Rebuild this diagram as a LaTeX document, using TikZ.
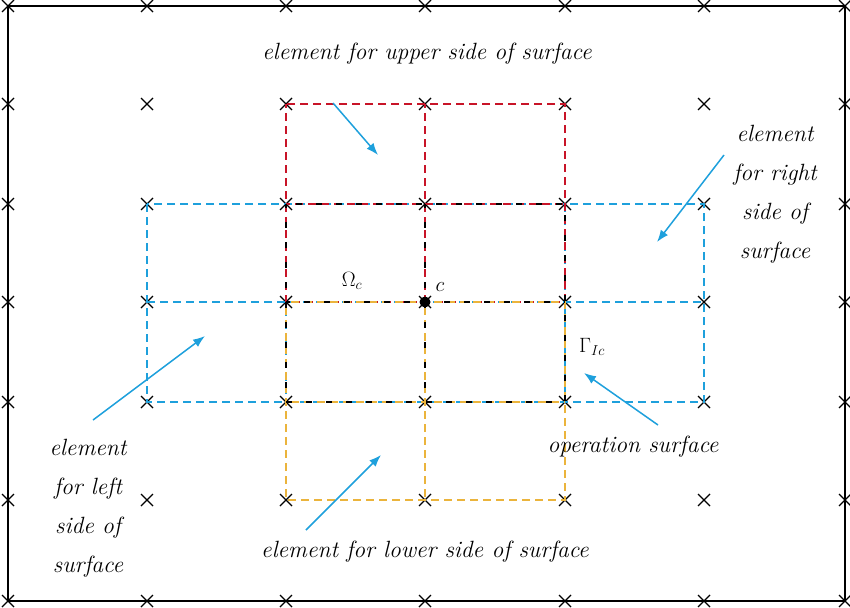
\documentclass[tikz,border=0pt]{standalone}
\usetikzlibrary{arrows.meta}
\definecolor{myred}{RGB}{200,20,40}
\definecolor{myblue}{RGB}{30,160,220}
\definecolor{myyel}{RGB}{235,180,60}
\begin{document}
\begin{tikzpicture}[x=1pt,y=-1pt,
  lbl/.style={font=\fontsize{23.5}{39}\selectfont\itshape,align=center,inner sep=0pt},
  arr/.style={myblue,line width=1.5pt,-{Latex[length=12pt,width=9pt]}},
  gd/.style={dash pattern=on 8pt off 5pt,line width=1.3pt}]
\useasboundingbox (0,0) rectangle (850,607);
\draw[line width=1.3pt] (8,6) rectangle (845,601);
\foreach \x in {8,147,286,425,565,704,845}
  \foreach \y in {6,104,204,302,402,500,601}
    \draw[line width=1.2pt] (\x-6,\y-6) -- (\x+6,\y+6) (\x-6,\y+6) -- (\x+6,\y-6);
% blue (left/right)
\draw[gd,myblue] (147,204) rectangle (704,402) (147,302) -- (704,302) (286,204) -- (286,402) (565,204) -- (565,402);
% red (upper)
\draw[gd,myred,dash phase=4pt] (286,104) rectangle (565,302) (425,104) -- (425,302) (286,204) -- (565,204);
% yellow (lower)
\draw[gd,myyel,dash phase=8pt] (286,302) rectangle (565,500) (425,302) -- (425,500) (286,402) -- (565,402);
% black operation surface
\draw[black,line width=1.2pt,dash pattern=on 6pt off 14pt,dash phase=2pt] (286,204) rectangle (565,402) (425,204) -- (425,402) (286,302) -- (565,302);
\node[circle,fill=black,inner sep=0pt,minimum size=11pt] (c) at (425,302) {};
\node[font=\fontsize{22}{24}\selectfont] (om) at (352,281) {$\Omega_c$};
\node[font=\fontsize{22}{24}\selectfont] (cl) at (440,287) {$c$};
\node[font=\fontsize{22}{24}\selectfont] (gam) at (592,347) {$\Gamma_{Ic}$};
\node[lbl] (up) at (427,54) {element for upper side of surface};
\coordinate (upa) at (333,103); \coordinate (upb) at (378,155);
\draw[arr] (upa) -- (upb);
\node[lbl] (rt) at (775,194) {element\\for right\\side of\\surface};
\coordinate (rta) at (724,155); \coordinate (rtb) at (657,242);
\draw[arr] (rta) -- (rtb);
\node[lbl] (lf) at (88,508) {element\\for left\\side of\\surface};
\coordinate (lfa) at (93,420); \coordinate (lfb) at (205,336);
\draw[arr] (lfa) -- (lfb);
\node[lbl] (op) at (633,447) {operation surface};
\coordinate (opa) at (658,425); \coordinate (opb) at (584,373);
\draw[arr] (opa) -- (opb);
\node[lbl] (lo) at (425,552) {element for lower side of surface};
\coordinate (loa) at (306,530); \coordinate (lob) at (381,455);
\draw[arr] (loa) -- (lob);
\end{tikzpicture}
\end{document}
